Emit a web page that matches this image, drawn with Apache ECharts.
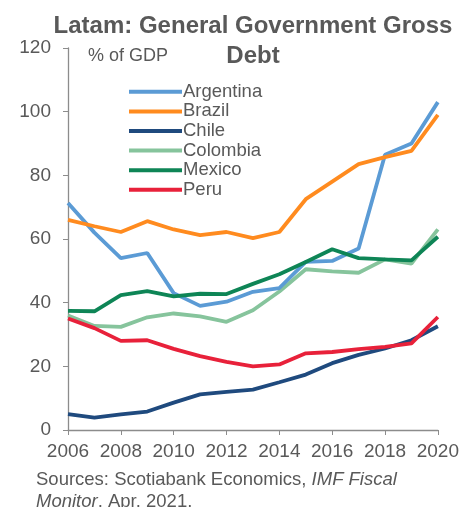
<!DOCTYPE html>
<html>
<head>
<meta charset="utf-8">
<script src="https://cdn.jsdelivr.net/npm/echarts@6/dist/echarts.min.js"></script>
<style>
  html, body { margin: 0; padding: 0; background: #fff; }
  #chart { width: 462px; height: 507px; }
</style>
</head>
<body>
<div id="chart"></div>
<script>
// years on the x axis
const years = ['2006', '2007', '2008', '2009', '2010', '2011', '2012', '2013',
  '2014', '2015', '2016', '2017', '2018', '2019', '2020'];

// % of GDP
const argentina = [71.3, 62, 54, 55.6, 43, 39, 40.3, 43.4, 44.6, 52.8, 53.1, 57, 86.5, 90, 103];
const brazil = [66, 64, 62.2, 65.6, 63, 61.2, 62.2, 60.3, 62.2, 72.5, 78, 83.5, 85.7, 87.7, 99];
const chile = [5, 3.9, 4.9, 5.8, 8.6, 11.2, 12, 12.7, 15, 17.4, 21, 23.6, 25.6, 28.2, 32.6];
const colombia = [36, 32.7, 32.4, 35.4, 36.6, 35.7, 34, 37.6, 43.5, 50.5, 49.8, 49.4, 53.6, 52.3, 63];
const mexico = [37.4, 37.3, 42.4, 43.6, 42, 42.8, 42.7, 45.9, 48.9, 52.8, 56.8, 54, 53.6, 53.3, 60.7];
const peru = [35, 32, 28, 28.2, 25.5, 23.2, 21.4, 20, 20.6, 24.1, 24.5, 25.4, 26.1, 27.2, 35.5];

const seriesNames = ['Argentina', 'Brazil', 'Chile', 'Colombia', 'Mexico', 'Peru'];
const seriesData = [argentina, brazil, chile, colombia, mexico, peru];
const colors = ['#5B9BD5', '#FF8B1F', '#1F4A7E', '#86C49C', '#0E8556', '#E8213A'];

const textGray = '#595959';
const font = 'Liberation Sans, Arial, sans-serif';

const chart = echarts.init(document.getElementById('chart'));

chart.setOption({
  animation: false,
  color: colors,
  title: {
    text: 'Latam: General Government Gross\nDebt',
    left: 248,
    textAlign: 'center',
    top: 6,
    textStyle: {
      fontFamily: font,
      fontWeight: 'bold',
      fontSize: 24,
      lineHeight: 30,
      color: textGray
    }
  },
  legend: {
    orient: 'vertical',
    left: 124,
    top: 77,
    itemWidth: 53,
    itemHeight: 4,
    itemGap: 0,
    icon: 'rect',
    data: seriesNames,
    textStyle: {
      fontFamily: font, fontSize: 18.5, lineHeight: 19.6,
      color: textGray, padding: [0, 0, 0, -4]
    }
  },
  grid: { left: 68, right: 22, top: 48, bottom: 77 },
  xAxis: {
    type: 'category',
    data: years,
    boundaryGap: false,
    axisLine: { lineStyle: { color: '#8C8C8C', width: 1.3 } },
    axisTick: { show: true, interval: 1, length: 5, lineStyle: { color: '#8C8C8C' } },
    axisLabel: {
      interval: 1,
      fontFamily: font,
      fontSize: 19,
      color: textGray,
      margin: 12
    }
  },
  yAxis: {
    type: 'value',
    min: 0,
    max: 120,
    interval: 20,
    splitLine: { show: false },
    axisLine: { show: true, lineStyle: { color: '#8C8C8C', width: 1.3 } },
    axisTick: { show: true, length: 5, lineStyle: { color: '#8C8C8C' } },
    axisLabel: { fontFamily: font, fontSize: 19, color: textGray, margin: 17 }
  },
  series: seriesNames.map((name, i) => ({
    name: name,
    type: 'line',
    data: seriesData[i],
    symbol: 'none',
    lineStyle: { width: 3.8, color: colors[i] },
    z: i === 3 ? 1 : 2
  })),
  graphic: [
    {
      type: 'text',
      left: 88,
      top: 47,
      style: { text: '% of GDP', fontFamily: font, fontSize: 18, fill: textGray }
    },
    {
      type: 'text',
      left: 36,
      top: 469,
      style: {
        text: '{n|Sources: Scotiabank Economics, }{i|IMF Fiscal}\n{i|Monitor}{n|, Apr. 2021.}',
        lineHeight: 22,
        rich: {
          n: { fontFamily: font, fontSize: 18.5, lineHeight: 22, fill: textGray },
          i: { fontFamily: font, fontSize: 18.5, lineHeight: 22, fontStyle: 'italic', fill: textGray }
        }
      }
    }
  ]
});
</script>
</body>
</html>
